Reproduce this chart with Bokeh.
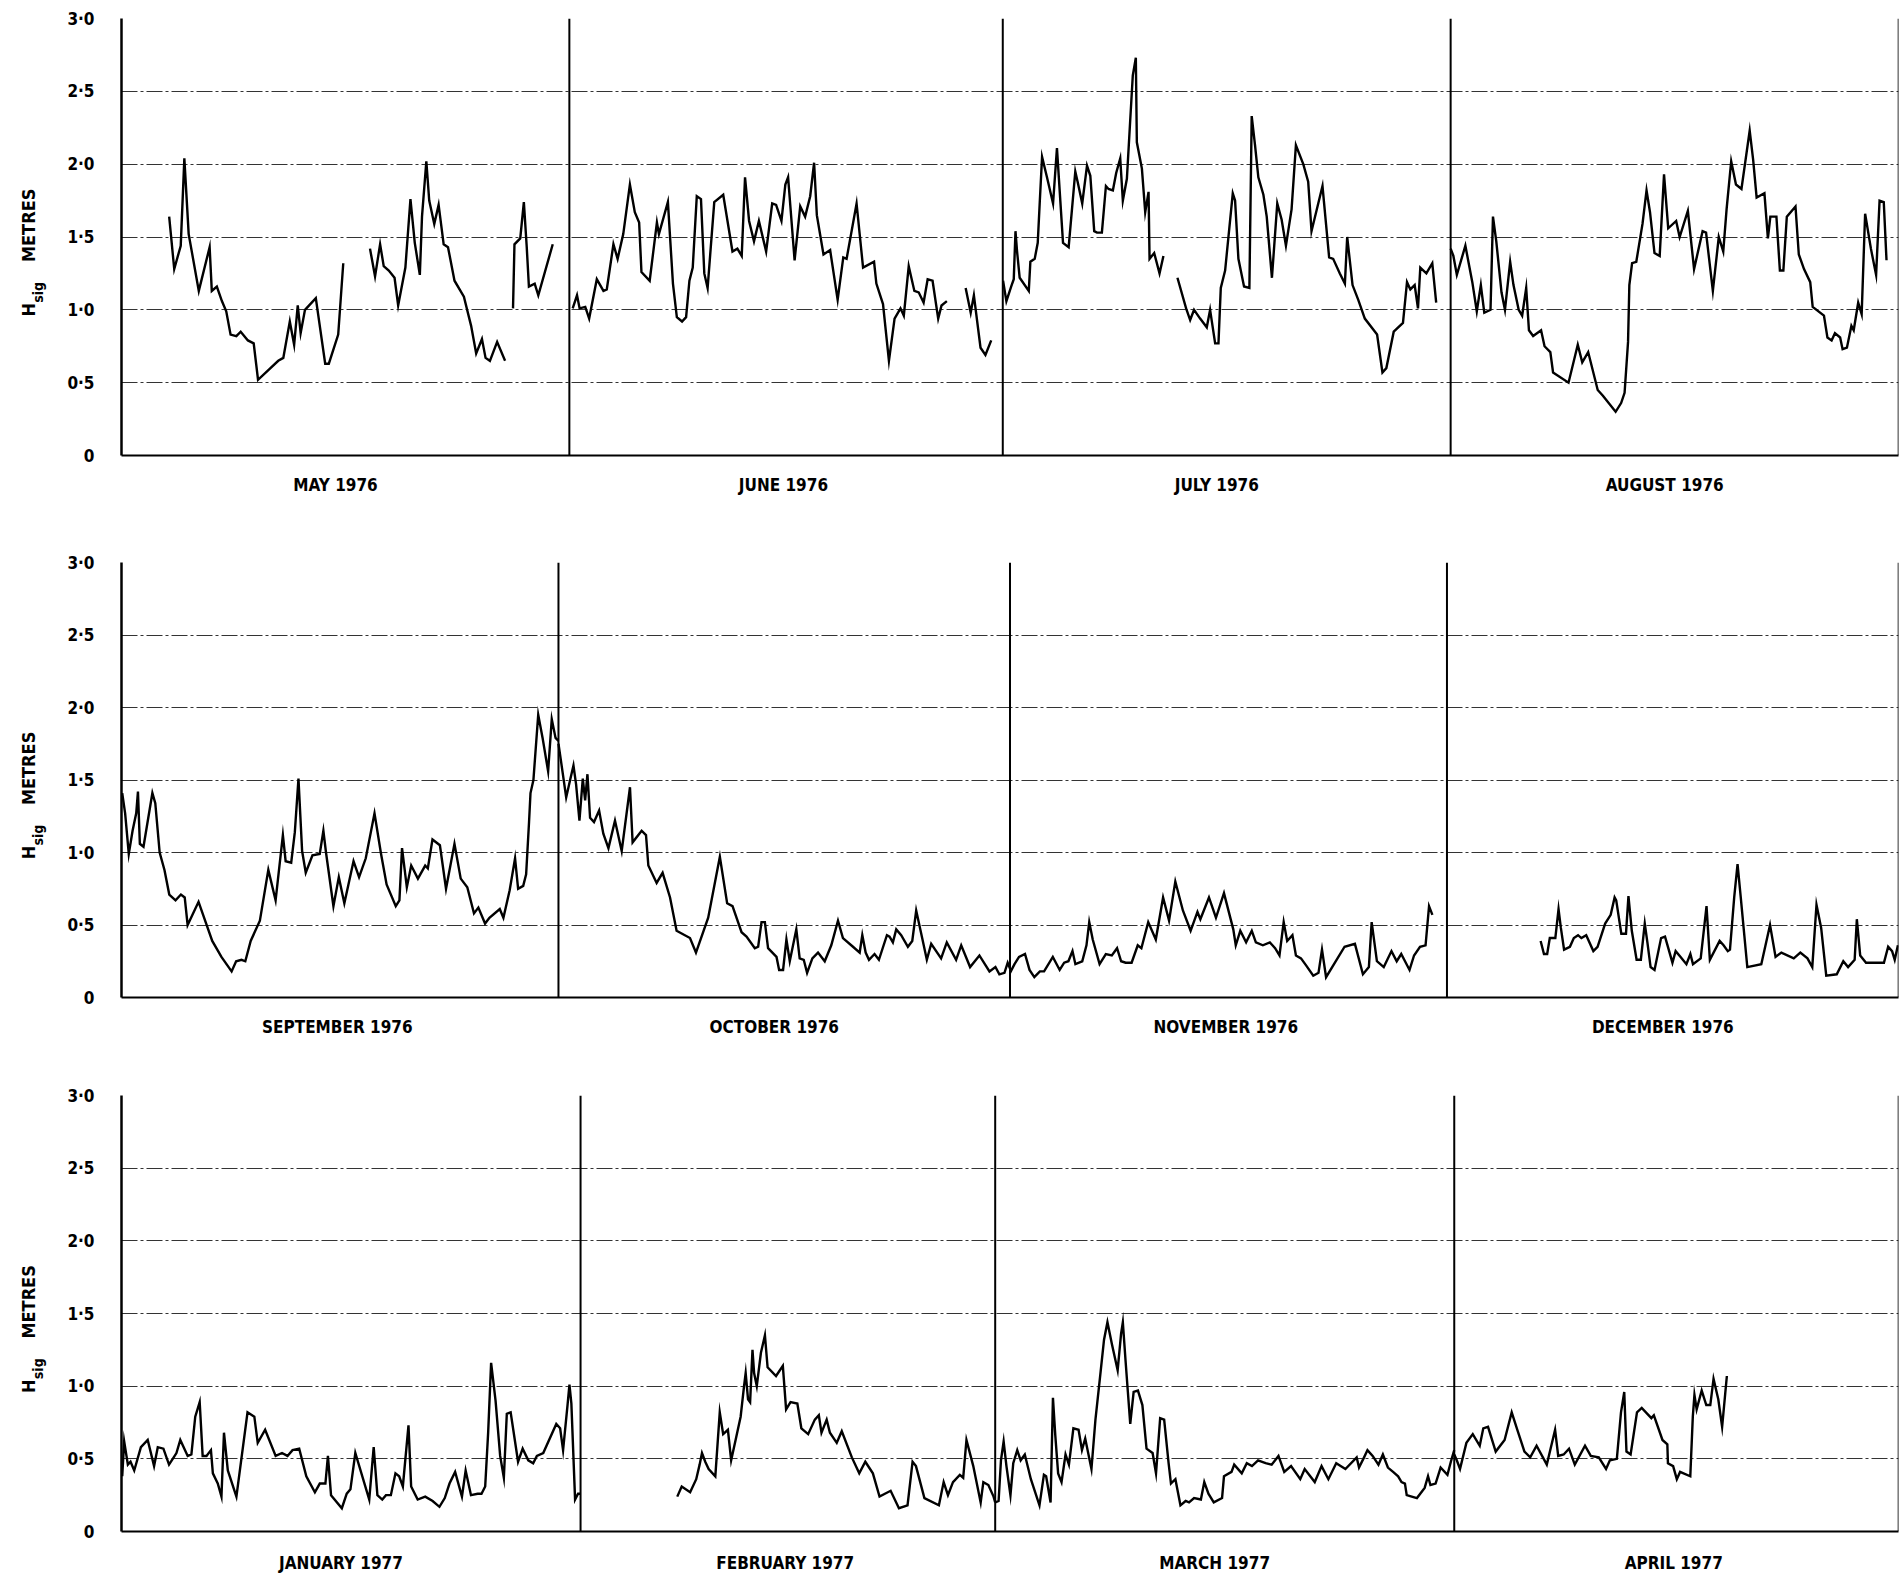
import math
from bokeh.plotting import figure
from bokeh.models import Range1d, FixedTicker, CustomJSTickFormatter, Span
from bokeh.layouts import column, row
from bokeh.embed import file_html
from bokeh.resources import INLINE
from bokeh.core.properties import value

# ---------------- data: (day of month, Hsig in metres); None = gap in record ----------------
MAY_1976 = [(3.3,1.64),(3.65,1.28),(4.1,1.44),(4.35,2.04),(4.65,1.52),(5.35,1.13),(6.1,1.43),(6.25,1.13),
            (6.6,1.16),(6.95,1.06),(7.25,0.99),(7.55,0.83),(7.95,0.82),(8.25,0.85),(8.75,0.79),(9.15,0.77),
            (9.45,0.52),(10.2,0.59),(10.85,0.65),(11.2,0.67),(11.65,0.92),(11.95,0.76),(12.2,1.03),(12.4,0.84),
            (12.7,1.00),(13.45,1.08),(14.1,0.63),(14.35,0.63),(15.0,0.83),(15.35,1.32), None,
            (17.2,1.42),(17.55,1.23),(17.9,1.45),(18.15,1.30),(18.5,1.27),(18.9,1.22),(19.15,1.03),(19.65,1.29),
            (20.0,1.76),(20.3,1.46),(20.65,1.24),(20.8,1.64),(21.1,2.02),(21.3,1.75),(21.65,1.59),(21.95,1.72),
            (22.3,1.45),(22.6,1.43),(23.05,1.20),(23.7,1.09),(24.2,0.89),(24.55,0.70),(24.95,0.80),(25.2,0.67),
            (25.5,0.65),(26.0,0.78),(26.55,0.65), None,
            (27.1,1.01),(27.2,1.45),(27.6,1.49),(27.85,1.74),(28.05,1.43),(28.2,1.16),(28.6,1.18),(28.85,1.10),
            (29.85,1.45)]

JUNE_1976 = [(0.23,1.01),(0.53,1.10),(0.71,1.01),(1.1,1.02),(1.37,0.94),(1.9,1.21),(2.36,1.13),(2.59,1.14),
             (3.05,1.45),(3.34,1.35),(3.73,1.52),(4.19,1.86),(4.53,1.67),(4.83,1.60),(4.99,1.26),(5.56,1.20),
             (6.06,1.60),(6.2,1.52),(6.82,1.74),(7.17,1.18),(7.44,0.95),(7.8,0.92),(8.08,0.95),(8.31,1.20),
             (8.54,1.29),(8.82,1.78),(9.11,1.76),(9.34,1.25),(9.57,1.15),(10.03,1.74),(10.65,1.79),(11.29,1.40),
             (11.63,1.42),(11.93,1.37),(12.16,1.91),(12.44,1.61),(12.78,1.47),(13.12,1.61),(13.62,1.40),(14.04,1.73),
             (14.31,1.72),(14.68,1.61),(14.95,1.86),(15.14,1.91),(15.59,1.34),(15.98,1.71),(16.32,1.64),(16.67,1.78),
             (16.94,2.01),(17.13,1.65),(17.59,1.38),(18.05,1.41),(18.57,1.07),(18.96,1.36),(19.19,1.35),(19.88,1.73),
             (20.33,1.29),(21.09,1.33),(21.25,1.18),(21.71,1.04),(22.12,0.65),(22.51,0.94),(22.92,1.01),(23.15,0.96),
             (23.49,1.30),(23.88,1.13),(24.18,1.12),(24.52,1.05),(24.8,1.21),(25.14,1.20),(25.53,0.94),(25.76,1.03),
             (26.13,1.06), None,
             (27.43,1.15),(27.78,0.98),(28.0,1.10),(28.46,0.74),(28.8,0.69),(29.2,0.79)]

JULY_1976 = [(0.02,1.20),(0.25,1.06),(0.58,1.16),(0.76,1.21),(0.88,1.54),(0.99,1.40),(1.17,1.22),(1.8,1.13),
             (1.91,1.33),(2.21,1.35),(2.42,1.46),(2.56,1.74),(2.72,2.05),(3.06,1.91),(3.48,1.73),(3.75,2.11),
             (4.17,1.46),(4.56,1.43),(5.02,1.95),(5.18,1.88),(5.5,1.73),(5.83,1.99),(6.06,1.92),(6.33,1.54),
             (6.52,1.53),(6.86,1.53),(7.14,1.85),(7.32,1.83),(7.62,1.82),(7.85,1.94),(8.13,2.04),(8.31,1.75),
             (8.59,1.90),(8.82,2.30),(9.0,2.61),(9.21,2.73),(9.28,2.15),(9.63,1.97),(9.86,1.67),(10.09,1.81),
             (10.16,1.35),(10.48,1.39),(10.85,1.25),(11.12,1.37), None,
             (12.09,1.22),(12.69,1.01),(12.97,0.93),(13.24,1.00),(13.66,0.94),(14.12,0.88),(14.35,1.00),(14.7,0.77),
             (14.93,0.77),(15.09,1.15),(15.39,1.27),(15.92,1.80),(16.08,1.75),(16.31,1.35),(16.7,1.16),(17.07,1.15),
             (17.23,2.33),(17.46,2.13),(17.69,1.91),(18.04,1.79),(18.27,1.64),(18.63,1.22),(19.0,1.73),(19.3,1.62),
             (19.6,1.44),(19.99,1.69),(20.29,2.13),(20.8,2.00),(21.14,1.88),(21.37,1.54),(22.13,1.85),(22.59,1.36),
             (22.87,1.35),(23.33,1.25),(23.68,1.18),(23.84,1.50),(24.21,1.17),(24.6,1.07),(25.06,0.94),(25.91,0.83),
             (26.28,0.57),(26.55,0.60),(27.06,0.85),(27.7,0.91),(27.98,1.19),(28.21,1.14),(28.51,1.17),(28.74,1.01),
             (28.9,1.29),(29.32,1.25),(29.73,1.32),(30.0,1.05)]

AUGUST_1976 = [(0.0,1.42),(0.19,1.37),(0.43,1.24),(1.02,1.44),(1.5,1.19),(1.81,0.99),(2.09,1.17),(2.33,0.98),
               (2.76,1.00),(2.93,1.64),(3.16,1.47),(3.52,1.12),(3.76,1.00),(4.12,1.33),(4.35,1.17),(4.71,1.00),
               (4.95,0.96),(5.23,1.15),(5.42,0.86),(5.71,0.82),(6.26,0.86),(6.5,0.75),(6.9,0.71),(7.09,0.57),
               (8.16,0.50),(8.8,0.76),(9.11,0.64),(9.52,0.71),(10.18,0.45),(10.54,0.41),(11.42,0.30),(11.8,0.36),
               (12.04,0.43),(12.28,0.78),(12.37,1.17),(12.56,1.32),(12.85,1.33),(13.28,1.59),(13.56,1.82),(13.8,1.67),
               (14.11,1.39),(14.47,1.37),(14.77,1.93),(15.06,1.56),(15.61,1.61),(15.85,1.50),(16.42,1.68),(16.85,1.28),
               (17.44,1.54),(17.68,1.53),(18.15,1.13),(18.56,1.50),(18.87,1.40),(19.1,1.69),(19.42,2.02),(19.75,1.86),
               (20.13,1.83),(20.7,2.23),(20.94,2.03),(21.18,1.77),(21.72,1.80),(21.96,1.49),(22.13,1.64),(22.55,1.64),
               (22.79,1.27),(23.03,1.27),(23.27,1.64),(23.87,1.71),(24.1,1.38),(24.46,1.28),(24.89,1.19),(25.06,1.02),
               (25.84,0.96),(26.08,0.81),(26.37,0.79),(26.6,0.84),(26.96,0.81),(27.13,0.73),(27.43,0.74),(27.74,0.89),
               (27.9,0.86),(28.21,1.05),(28.45,0.97),(28.69,1.66),(29.09,1.42),(29.45,1.24),(29.69,1.75),(29.98,1.74),
               (30.17,1.34)]

SEPTEMBER_1976 = [(0.05,1.41),(0.25,1.27),(0.5,0.99),(0.76,1.15),(1.01,1.27),(1.13,1.42),(1.26,1.06),(1.51,1.04),
                  (2.12,1.41),(2.32,1.34),(2.62,1.00),(2.95,0.88),(3.28,0.71),(3.71,0.67),(4.08,0.71),(4.34,0.69),
                  (4.54,0.50),(5.29,0.66),(6.23,0.39),(6.86,0.28),(7.56,0.18),(7.87,0.25),(8.24,0.26),(8.5,0.25),
                  (8.87,0.39),(9.5,0.53),(10.08,0.88),(10.58,0.67),(11.08,1.12),(11.27,0.94),(11.65,0.93),(11.9,1.14),
                  (12.15,1.51),(12.4,1.01),(12.65,0.86),(13.11,0.98),(13.61,0.99),(13.86,1.15),(14.04,1.00),(14.55,0.63),
                  (14.92,0.83),(15.3,0.65),(15.93,0.94),(16.31,0.83),(16.77,0.96),(17.37,1.27),(17.82,0.99),(18.2,0.78),
                  (18.83,0.63),(19.08,0.67),(19.26,1.03),(19.59,0.76),(19.89,0.91),(20.35,0.82),(20.85,0.91),(21.03,0.89),
                  (21.35,1.09),(21.86,1.05),(22.28,0.75),(22.86,1.06),(23.29,0.82),(23.74,0.76),(24.2,0.58),(24.5,0.62),
                  (24.96,0.51),(25.26,0.55),(25.97,0.61),(26.22,0.55),(26.65,0.74),(27.02,0.96),(27.23,0.75),(27.58,0.77),
                  (27.78,0.85),(27.98,1.21),(28.08,1.41),(28.28,1.50),(28.61,1.95),(28.91,1.79),(29.29,1.56),(29.54,1.92),
                  (29.8,1.79),(30.0,1.77)]

OCTOBER_1976 = [(0.0,1.75),(0.16,1.64),(0.53,1.38),(0.8,1.50),(1.03,1.60),(1.21,1.47),(1.44,1.22),(1.67,1.51),
                (1.83,1.36),(1.99,1.54),(2.17,1.24),(2.44,1.21),(2.79,1.29),(3.08,1.13),(3.43,1.03),(3.88,1.22),
                (4.34,1.01),(4.91,1.45),(5.09,1.07),(5.71,1.15),(6.01,1.12),(6.17,0.91),(6.74,0.79),(7.15,0.86),
                (7.66,0.69),(8.11,0.46),(9.03,0.41),(9.44,0.31),(10.28,0.55),(11.08,0.97),(11.58,0.65),(11.95,0.63),
                (12.57,0.45),(12.91,0.42),(13.48,0.34),(13.71,0.35),(13.94,0.52),(14.17,0.52),(14.39,0.34),(14.97,0.28),
                (15.15,0.19),(15.42,0.19),(15.65,0.40),(15.88,0.25),(16.33,0.47),(16.56,0.27),(16.84,0.26),(17.07,0.17),
                (17.43,0.27),(17.82,0.31),(18.28,0.25),(18.73,0.36),(19.19,0.53),(19.53,0.41),(20.22,0.35),(20.68,0.31),
                (20.86,0.43),(21.09,0.31),(21.32,0.26),(21.7,0.30),(22.0,0.26),(22.55,0.43),(22.73,0.42),(22.96,0.38),
                (23.19,0.47),(23.53,0.43),(23.99,0.35),(24.29,0.39),(24.56,0.60),(24.97,0.41),(25.29,0.26),(25.59,0.37),
                (26.27,0.27),(26.66,0.38),(27.3,0.26),(27.65,0.36),(28.26,0.21),(28.9,0.29),(29.59,0.18),(30.0,0.21),
                (30.27,0.16),(30.62,0.17),(30.84,0.24),(31.0,0.20)]

NOVEMBER_1976 = [(0.0,0.17),(0.31,0.23),(0.62,0.28),(1.03,0.30),(1.34,0.19),(1.67,0.14),(2.05,0.18),(2.34,0.18),
                 (2.94,0.28),(3.41,0.19),(3.72,0.24),(4.01,0.25),(4.29,0.32),(4.49,0.23),(4.96,0.25),(5.25,0.36),
                 (5.44,0.52),(5.68,0.40),(6.15,0.23),(6.58,0.30),(6.99,0.29),(7.35,0.34),(7.63,0.25),(7.94,0.24),
                 (8.35,0.24),(8.77,0.36),(9.02,0.34),(9.49,0.52),(10.01,0.40),(10.51,0.69),(10.92,0.53),(11.35,0.80),
                 (11.87,0.60),(12.4,0.46),(12.87,0.59),(13.07,0.54),(13.66,0.69),(14.14,0.55),(14.69,0.72),(15.33,0.47),
                 (15.5,0.36),(15.81,0.46),(16.21,0.38),(16.6,0.46),(16.88,0.38),(17.36,0.36),(17.84,0.38),(18.2,0.34),
                 (18.5,0.29),(18.79,0.52),(19.03,0.39),(19.39,0.43),(19.63,0.29),(19.98,0.27),(20.34,0.22),(20.82,0.15),
                 (21.18,0.17),(21.42,0.33),(21.7,0.14),(22.97,0.35),(23.68,0.37),(24.23,0.16),(24.64,0.21),(24.83,0.52),
                 (25.19,0.25),(25.66,0.21),(26.19,0.32),(26.55,0.25),(26.86,0.30),(27.43,0.19),(27.74,0.29),(28.15,0.35),
                 (28.53,0.36),(28.77,0.63),(29.0,0.57)]

DECEMBER_1976 = [(6.43,0.39),(6.66,0.30),(6.88,0.30),(7.06,0.41),(7.44,0.41),(7.66,0.61),(7.82,0.48),(8.04,0.33),
                 (8.44,0.35),(8.71,0.41),(9.0,0.43),(9.23,0.41),(9.56,0.43),(10.05,0.32),(10.34,0.35),(10.86,0.51),
                 (11.24,0.57),(11.51,0.69),(11.62,0.67),(11.97,0.44),(12.29,0.44),(12.46,0.70),(12.69,0.46),(13.02,0.26),
                 (13.31,0.26),(13.58,0.51),(13.76,0.38),(13.98,0.21),(14.25,0.19),(14.7,0.41),(14.97,0.42),(15.48,0.24),
                 (15.7,0.32),(16.04,0.28),(16.44,0.23),(16.71,0.30),(16.89,0.23),(17.42,0.27),(17.82,0.63),(18.05,0.26),
                 (18.72,0.39),(18.99,0.36),(19.28,0.32),(19.43,0.33),(19.72,0.69),(19.95,0.92),(20.17,0.69),(20.62,0.21),
                 (21.58,0.23),(22.18,0.50),(22.56,0.28),(22.96,0.31),(23.81,0.27),(24.26,0.31),(24.75,0.27),(25.08,0.21),
                 (25.37,0.64),(25.69,0.48),(26.04,0.15),(26.76,0.16),(27.21,0.25),(27.54,0.21),(27.99,0.26),(28.14,0.54),
                 (28.37,0.29),(28.77,0.24),(30.0,0.24),(30.29,0.35),(30.56,0.32),(30.74,0.26),(30.96,0.36)]

JANUARY_1977 = [(0.05,0.38),(0.18,0.62),(0.43,0.46),(0.61,0.48),(0.86,0.42),(1.31,0.58),(1.77,0.63),(2.2,0.45),
                (2.45,0.58),(2.83,0.57),(3.21,0.46),(3.46,0.50),(3.71,0.54),(3.97,0.63),(4.47,0.52),(4.72,0.53),
                (4.98,0.79),(5.28,0.89),(5.48,0.52),(5.74,0.52),(6.04,0.56),(6.17,0.40),(6.5,0.33),(6.75,0.24),
                (6.92,0.68),(7.18,0.42),(7.76,0.24),(8.51,0.82),(8.97,0.79),(9.2,0.61),(9.7,0.70),(10.41,0.52),
                (10.84,0.54),(11.21,0.52),(11.55,0.56),(12.0,0.57),(12.48,0.38),(13.06,0.27),(13.39,0.33),(13.77,0.33),
                (13.94,0.52),(14.15,0.25),(14.88,0.16),(15.21,0.26),(15.46,0.29),(15.79,0.54),(16.73,0.22),(17.03,0.58),
                (17.28,0.25),(17.61,0.22),(17.86,0.25),(18.19,0.25),(18.5,0.40),(18.75,0.38),(19.0,0.31),(19.38,0.73),
                (19.56,0.31),(20.0,0.22),(20.51,0.24),(21.01,0.21),(21.47,0.17),(21.83,0.23),(22.15,0.33),(22.53,0.41),
                (22.99,0.24),(23.24,0.42),(23.6,0.25),(24.05,0.26),(24.31,0.26),(24.56,0.31),(24.76,0.68),(24.96,1.16),
                (25.26,0.90),(25.57,0.52),(25.82,0.37),(26.02,0.81),(26.28,0.82),(26.78,0.48),(27.09,0.57),(27.47,0.49),
                (27.8,0.47),(28.05,0.52),(28.48,0.54),(29.36,0.74),(29.62,0.71),(29.82,0.56),(30.12,0.87),(30.25,1.01),
                (30.38,0.88),(30.63,0.22),(30.83,0.26),(31.0,0.26)]

FEBRUARY_1977 = [(6.53,0.24),(6.83,0.31),(7.4,0.27),(7.81,0.36),(8.04,0.46),(8.2,0.54),(8.42,0.48),(8.65,0.43),
                 (9.1,0.38),(9.4,0.82),(9.63,0.67),(9.95,0.70),(10.17,0.49),(10.47,0.63),(10.81,0.79),(11.04,1.00),
                 (11.15,1.09),(11.31,0.91),(11.45,0.89),(11.61,1.25),(11.72,1.09),(11.9,1.00),(12.18,1.23),(12.45,1.35),
                 (12.63,1.13),(13.2,1.07),(13.66,1.14),(13.88,0.84),(14.18,0.89),(14.64,0.88),(14.91,0.71),(15.37,0.67),
                 (15.82,0.77),(16.09,0.80),(16.27,0.68),(16.62,0.77),(16.84,0.68),(17.3,0.61),(17.64,0.69),(18.32,0.51),
                 (18.82,0.40),(19.23,0.48),(19.74,0.40),(20.19,0.24),(20.94,0.28),(21.5,0.16),(22.08,0.18),(22.42,0.48),
                 (22.65,0.45),(23.22,0.23),(24.2,0.18),(24.52,0.34),(24.81,0.25),(25.15,0.34),(25.61,0.39),(25.84,0.37),
                 (26.06,0.63),(26.52,0.45),(27.02,0.20),(27.2,0.34),(27.54,0.32),(27.89,0.24),(28.0,0.20)]

MARCH_1977 = [(0.0,0.20),(0.23,0.21),(0.39,0.49),(0.57,0.62),(0.76,0.45),(1.03,0.25),(1.22,0.47),(1.49,0.56),
              (1.72,0.49),(2.0,0.53),(2.41,0.36),(2.99,0.18),(3.29,0.39),(3.44,0.38),(3.74,0.20),(3.9,0.92),
              (4.06,0.66),(4.25,0.40),(4.48,0.34),(4.75,0.53),(4.98,0.46),(5.28,0.71),(5.63,0.70),(5.86,0.56),
              (6.08,0.64),(6.5,0.43),(6.77,0.77),(7.12,1.10),(7.35,1.32),(7.58,1.44),(7.88,1.29),(8.27,1.11),
              (8.5,1.36),(8.62,1.44),(8.8,1.18),(8.96,0.96),(9.12,0.74),(9.35,0.96),(9.64,0.97),(9.94,0.87),
              (10.22,0.57),(10.63,0.54),(10.86,0.40),(11.14,0.78),(11.41,0.77),(11.71,0.47),(11.87,0.33),(12.17,0.36),
              (12.51,0.18),(12.86,0.21),(13.09,0.20),(13.43,0.23),(13.89,0.22),(14.12,0.34),(14.4,0.26),(14.76,0.20),
              (15.32,0.23),(15.45,0.38),(15.96,0.41),(16.14,0.46),(16.65,0.40),(16.99,0.47),(17.34,0.45),(17.75,0.49),
              (18.26,0.47),(18.67,0.46),(19.13,0.52),(19.52,0.41),(19.98,0.45),(20.6,0.36),(20.9,0.43),(21.58,0.34),
              (22.04,0.45),(22.5,0.36),(23.03,0.47),(23.65,0.43),(24.41,0.51),(24.57,0.44),(24.91,0.51),(25.14,0.56),
              (25.49,0.52),(25.88,0.46),(26.18,0.53),(26.52,0.44),(26.87,0.41),(27.21,0.38),(27.44,0.34),(27.67,0.33),
              (27.79,0.25),(28.13,0.24),(28.48,0.23),(29.0,0.30),(29.23,0.38),(29.39,0.32),(29.74,0.33),(30.08,0.44),
              (30.54,0.39),(30.77,0.48),(31.0,0.56)]

APRIL_1977 = [(0.0,0.53),(0.17,0.49),(0.39,0.43),(0.82,0.61),(1.25,0.67),(1.72,0.59),(1.96,0.71),(2.28,0.72),
              (2.8,0.55),(3.4,0.63),(3.88,0.82),(4.26,0.70),(4.74,0.55),(5.13,0.51),(5.56,0.59),(6.25,0.46),
              (6.81,0.70),(7.02,0.52),(7.39,0.53),(7.75,0.57),(8.14,0.46),(8.83,0.59),(9.22,0.52),(9.76,0.51),
              (10.25,0.43),(10.51,0.49),(10.98,0.50),(11.26,0.82),(11.48,0.96),(11.63,0.55),(11.91,0.53),(12.34,0.82),
              (12.66,0.85),(13.31,0.78),(13.48,0.80),(14.06,0.63),(14.39,0.60),(14.43,0.47),(14.78,0.45),(15.03,0.36),
              (15.25,0.41),(15.94,0.38),(16.11,0.79),(16.22,0.94),(16.37,0.84),(16.71,0.97),(17.02,0.87),(17.29,0.87),
              (17.51,1.05),(17.83,0.91),(18.09,0.72),(18.3,0.95),(18.41,1.07)]

# ---------------- rows of panels ----------------
ROW1_MONTHS = ["MAY", "JUNE", "JULY", "AUGUST"]
ROW1_DAYS = [31, 30, 31, 31]
ROW1_YEAR = [1976, 1976, 1976, 1976]
ROW1_DATA = [MAY_1976, JUNE_1976, JULY_1976, AUGUST_1976]

ROW2_MONTHS = ["SEPTEMBER", "OCTOBER", "NOVEMBER", "DECEMBER"]
ROW2_DAYS = [30, 31, 30, 31]
ROW2_YEAR = [1976, 1976, 1976, 1976]
ROW2_DATA = [SEPTEMBER_1976, OCTOBER_1976, NOVEMBER_1976, DECEMBER_1976]

ROW3_MONTHS = ["JANUARY", "FEBRUARY", "MARCH", "APRIL"]
ROW3_DAYS = [31, 28, 31, 30]
ROW3_YEAR = [1977, 1977, 1977, 1977]
ROW3_DATA = [JANUARY_1977, FEBRUARY_1977, MARCH_1977, APRIL_1977]

Y_TICKS = [0, 0.5, 1.0, 1.5, 2.0, 2.5, 3.0]
Y_LABEL_PARTS = ["H", "sig", "METRES"]

# ---------------- styling ----------------
FONT = "Liberation Sans Narrow, DejaVu Sans Condensed, DejaVu Sans"
LABEL_W = 60          # strip holding the rotated y-axis title
W = 1900 - LABEL_W    # main panel figure
LEFT, RIGHT = 61, 2


def make_label_strip(top, frame_h, bottom):
    s = figure(width=LABEL_W, height=top + frame_h + bottom,
               x_range=Range1d(0, LABEL_W), y_range=Range1d(0, 3.0),
               output_backend="svg", toolbar_location=None,
               x_axis_location=None, y_axis_location=None,
               min_border_left=0, min_border_right=0,
               min_border_top=top, min_border_bottom=bottom)
    s.outline_line_color = None
    s.xgrid.visible = False
    s.ygrid.visible = False
    s.border_fill_color = "white"
    s.background_fill_color = "white"
    common = dict(angle=math.pi / 2, text_align="center", text_baseline="middle",
                  text_font=value(FONT), text_font_style="bold", text_color="black")
    s.text(x=[28], y=[1.0], text=[Y_LABEL_PARTS[0]], text_font_size="18px", **common)
    s.text(x=[37], y=[1.12], text=[Y_LABEL_PARTS[1]], text_font_size="14px", **common)
    s.text(x=[28], y=[1.58], text=[Y_LABEL_PARTS[2]], text_font_size="18px", **common)
    return s


def make_row(months, ndays, years, data, top, frame_h, bottom, standoff):
    total = sum(ndays)
    starts = [sum(ndays[:i]) for i in range(len(ndays))]
    p = figure(width=W, height=top + frame_h + bottom,
               x_range=Range1d(0, total), y_range=Range1d(0, 3.0),
               output_backend="svg", toolbar_location=None,
               min_border_left=LEFT, min_border_right=RIGHT,
               min_border_top=top, min_border_bottom=bottom)
    p.outline_line_color = None
    p.background_fill_color = "white"
    p.border_fill_color = "white"

    # y axis
    p.yaxis.ticker = FixedTicker(ticks=Y_TICKS)
    p.yaxis.formatter = CustomJSTickFormatter(
        code="return tick == 0 ? '0' : tick.toFixed(1).replace('.', '\u00b7');")
    p.yaxis.major_tick_line_color = None
    p.yaxis.minor_tick_line_color = None
    p.yaxis.major_tick_out = 0
    p.yaxis.major_tick_in = 0
    p.yaxis.axis_line_width = 2.5
    p.yaxis.axis_line_color = "black"
    p.yaxis.major_label_standoff = 27
    p.yaxis.major_label_text_font = FONT
    p.yaxis.major_label_text_font_style = "bold"
    p.yaxis.major_label_text_font_size = "17px"
    p.yaxis.major_label_text_color = "black"

    # x axis: month names
    mids = [starts[i] + ndays[i] // 2 for i in range(len(ndays))]
    names = ["%s  %d" % (months[i], years[i]) for i in range(len(months))]
    p.xaxis.ticker = FixedTicker(ticks=mids)
    p.xaxis.formatter = CustomJSTickFormatter(
        args=dict(mid_days=mids, month_names=names),
        code="const i = mid_days.indexOf(tick); return i < 0 ? '' : month_names[i];")
    p.xaxis.major_tick_line_color = None
    p.xaxis.minor_tick_line_color = None
    p.xaxis.major_tick_out = 0
    p.xaxis.major_tick_in = 0
    p.xaxis.axis_line_width = 2.2
    p.xaxis.axis_line_color = "black"
    p.xaxis.major_label_standoff = standoff
    p.xaxis.major_label_text_font = FONT
    p.xaxis.major_label_text_font_style = "bold"
    p.xaxis.major_label_text_font_size = "17px"
    p.xaxis.major_label_text_color = "black"

    # grid
    p.xgrid.visible = False
    p.ygrid.ticker = FixedTicker(ticks=[0.5, 1.0, 1.5, 2.0, 2.5, 3.0])
    p.ygrid.grid_line_color = "#333333"
    p.ygrid.grid_line_width = 1.1
    p.ygrid.grid_line_dash = "16 3 3 3"

    # month separators and right edge
    for b in starts[1:]:
        p.add_layout(Span(location=b, dimension="height", line_color="black", line_width=2))
    p.add_layout(Span(location=total, dimension="height", line_color="black", line_width=1.6))

    # series
    nan = float("nan")
    for i, pts in enumerate(data):
        xs = [starts[i] + pt[0] if pt is not None else nan for pt in pts]
        ys = [pt[1] if pt is not None else nan for pt in pts]
        p.line(xs, ys, line_color="black", line_width=2.4, line_join="miter")
    return p


ROW_GEOM = [(18, 437, 85, 19), (22, 435, 76, 19), (22, 436, 50, 21)]
rows = []
for (months, ndays, years, data), (top, fh, bot, so) in zip(
        [(ROW1_MONTHS, ROW1_DAYS, ROW1_YEAR, ROW1_DATA),
         (ROW2_MONTHS, ROW2_DAYS, ROW2_YEAR, ROW2_DATA),
         (ROW3_MONTHS, ROW3_DAYS, ROW3_YEAR, ROW3_DATA)], ROW_GEOM):
    rows.append(row(make_label_strip(top, fh, bot), make_row(months, ndays, years, data, top, fh, bot, so),
                    spacing=0))

layout = column(*rows, spacing=0)
open("out.html", "w").write(file_html(layout, INLINE))
